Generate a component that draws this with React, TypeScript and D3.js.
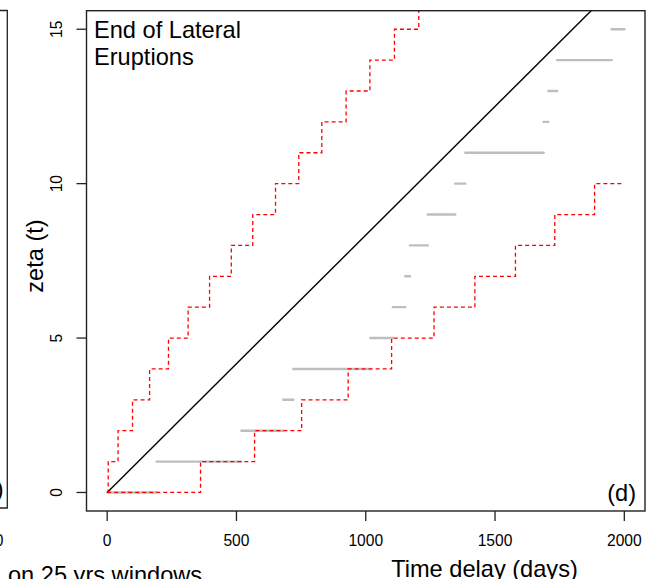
import React from "react";
import * as d3 from "d3";

// ---- data ----
const xTicks = [0, 500, 1000, 1500, 2000];
const yTicks = [0, 5, 10, 15];
// upper confidence step (red dashed): day at which level i -> i+1
const upperSteps = [4, 42, 98, 164, 237, 313, 396, 480, 563, 651, 741, 830, 924, 1016, 1111, 1205];
// lower confidence step (red dashed)
const lowerSteps = [361, 570, 752, 932, 1100, 1264, 1422, 1579, 1731, 1885];
const lowerEnd = 1995;
// observed counting process (grey horizontal segments): start of level k
const eventTimes = [0, 191, 519, 681, 720, 1018, 1105, 1153, 1171, 1240, 1346, 1385, 1688, 1706, 1740, 1951, 2000];
// expected rate line (black)
const rateSlope = 1 / 120;
const xDomain = [-80, 2080];
const yDomain = [-0.6, 15.6];

const W = 654;
const H = 579;
const FONT = "'Liberation Sans', Arial, Helvetica, sans-serif";

export default function App() {
  const left = 86.5, right = 645, top = 10.7, bottom = 511;
  const x = d3.scaleLinear().domain(xDomain).range([left, right]);
  const y = d3.scaleLinear().domain(yDomain).range([bottom, top]);

  const stepLine = d3
    .line<[number, number]>()
    .x((d) => x(d[0]))
    .y((d) => y(d[1]))
    .curve(d3.curveStepAfter);

  const upperPts: [number, number][] = [[0, 0], ...upperSteps.map((t, i) => [t, i + 1] as [number, number]), [xDomain[1], upperSteps.length]];
  const lowerPts: [number, number][] = [[0, 0], ...lowerSteps.map((t, i) => [t, i + 1] as [number, number]), [lowerEnd, lowerSteps.length]];

  const segs = eventTimes.slice(0, -1).map((t, k) => ({ x0: t, x1: eventTimes[k + 1], level: k }));

  const lineEnd = xDomain[1];

  return (
    <svg width={W} height={H} style={{ position: "absolute", left: 0, top: 0, background: "#fff" }} fontFamily={FONT}>
      <defs>
        <clipPath id="plotclip">
          <rect x={left} y={top} width={right - left} height={bottom - top} />
        </clipPath>
      </defs>
      <rect x={0} y={0} width={W} height={H} fill="#fff" />

      {/* partial previous panel on the left */}
      <path d={`M0,10.5 H7.3 V508 H0`} fill="none" stroke="#222" strokeWidth={1.3} />
      <text x={3.5} y={497} textAnchor="end" fontSize={23.6} fill="#000">(c)</text>
      <text x={3.5} y={546} textAnchor="end" fontSize={15.6} fill="#000">2000</text>
      <text x={8} y={583} fontSize={23.6} fill="#000">on 25 yrs windows</text>

      {/* data */}
      <g clipPath="url(#plotclip)">
        {segs.map((s, i) => (
          <line
            key={i}
            x1={x(s.x0)}
            x2={x(s.x1)}
            y1={y(s.level)}
            y2={y(s.level)}
            stroke="#bebebe"
            strokeWidth={2.4}
            strokeLinecap="round"
          />
        ))}
        <line x1={x(0)} y1={y(0)} x2={x(lineEnd)} y2={y(lineEnd * rateSlope)} stroke="#000" strokeWidth={1.4} />
        <path d={stepLine(upperPts) || ""} fill="none" stroke="#ff0000" strokeWidth={1.3} strokeDasharray="4,3" />
        <path d={stepLine(lowerPts) || ""} fill="none" stroke="#ff0000" strokeWidth={1.3} strokeDasharray="4,3" />
      </g>

      {/* box */}
      <rect x={left} y={top} width={right - left} height={bottom - top} fill="none" stroke="#222" strokeWidth={1.4} />

      {/* x axis */}
      {xTicks.map((t) => (
        <g key={t}>
          <line x1={x(t)} x2={x(t)} y1={bottom} y2={bottom + 10} stroke="#222" strokeWidth={1.3} />
          <text x={x(t)} y={546} textAnchor="middle" fontSize={15.6} fill="#000">{t}</text>
        </g>
      ))}

      {/* y axis */}
      {yTicks.map((t) => (
        <g key={t}>
          <line x1={left - 10} x2={left} y1={y(t)} y2={y(t)} stroke="#222" strokeWidth={1.3} />
          <text
            transform={`translate(62,${y(t)}) rotate(-90)`}
            textAnchor="middle"
            fontSize={15.6}
            fill="#000"
          >
            {t}
          </text>
        </g>
      ))}

      {/* labels */}
      <text transform={`translate(43,256) rotate(-90)`} textAnchor="middle" fontSize={23.6} fill="#000">zeta (t)</text>
      <text x={484.5} y={577} textAnchor="middle" fontSize={23.6} fill="#000">Time delay (days)</text>
      <text x={94} y={38} fontSize={23.6} fill="#000">End of Lateral</text>
      <text x={94} y={64.5} fontSize={23.6} fill="#000">Eruptions</text>
      <text x={636} y={501} textAnchor="end" fontSize={23.6} fill="#000">(d)</text>
    </svg>
  );
}
